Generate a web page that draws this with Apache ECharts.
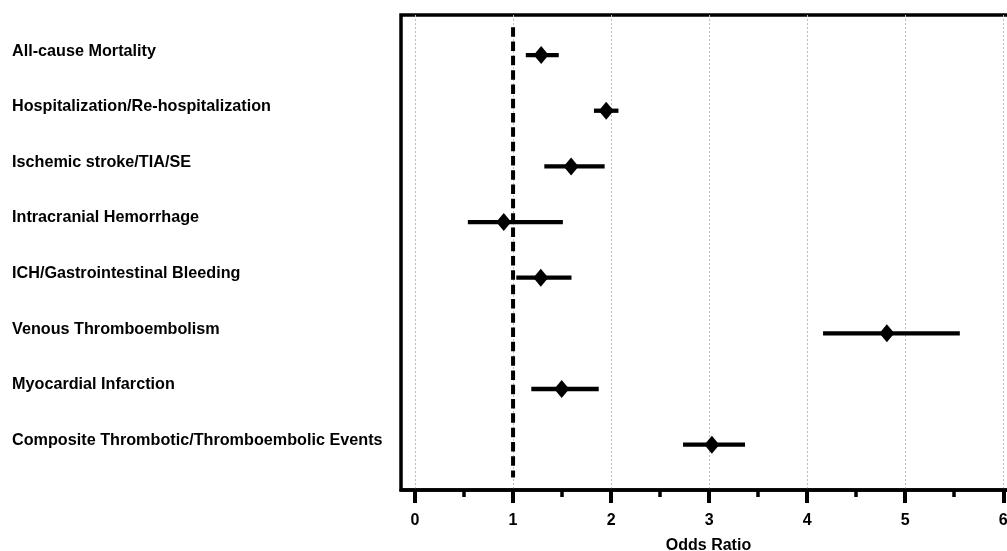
<!DOCTYPE html>
<html>
<head>
<meta charset="utf-8">
<script src="https://cdn.jsdelivr.net/npm/echarts@6/dist/echarts.min.js"></script>
<style>html,body{margin:0;padding:0;background:#fff;}#c{width:1007px;height:551px;}</style>
</head>
<body>
<div id="c"></div>
<script>
const categories = [
  'All-cause Mortality',
  'Hospitalization/Re-hospitalization',
  'Ischemic stroke/TIA/SE',
  'Intracranial Hemorrhage',
  'ICH/Gastrointestinal Bleeding',
  'Venous Thromboembolism',
  'Myocardial Infarction',
  'Composite Thrombotic/Thromboembolic Events'
];
const oddsRatio = [1.287, 1.95, 1.592, 0.905, 1.283, 4.813, 1.496, 3.028];
const ciLow     = [1.13, 1.825, 1.319, 0.539, 1.033, 4.162, 1.186, 2.734];
const ciHigh    = [1.466, 2.075, 1.934, 1.508, 1.596, 5.557, 1.874, 3.366];
const majorTicks = [0, 1, 2, 3, 4, 5, 6];
const minorTicks = [0.5, 1.5, 2.5, 3.5, 4.5, 5.5];
const rowPos = [1, 2, 3, 4, 5, 6, 7, 8];
const refValue = 1;

const font = 'Liberation Sans, Arial, sans-serif';
const chart = echarts.init(document.getElementById('c'), null, {renderer: 'canvas'});

const errData = rowPos.map((y, i) => [ciLow[i], ciHigh[i], y]);
const ptData = rowPos.map((y, i) => [oddsRatio[i], y]);

chart.setOption({
  animation: false,
  backgroundColor: '#fff',
  grid: {
    left: 401, top: 15, bottom: 61, width: 615,
    outerBoundsMode: 'none', containLabel: false,
    show: true, borderColor: '#000', borderWidth: 3.5, backgroundColor: 'transparent'
  },
  xAxis: [{
    type: 'value', position: 'bottom',
    min: -0.143, max: 6.13,
    name: 'Odds Ratio', nameLocation: 'middle', nameGap: 48,
    nameTextStyle: {fontFamily: font, fontWeight: 'bold', fontSize: 16, color: '#000'},
    axisLine: {show: true, lineStyle: {color: '#000', width: 3.5}},
    axisTick: {show: true, customValues: majorTicks, length: 13, lineStyle: {color: '#000', width: 4}},
    axisLabel: {customValues: majorTicks, margin: 23, fontFamily: font, fontWeight: 'bold', fontSize: 16, color: '#000'},
    splitLine: {show: true, lineStyle: {color: '#bdbdbd', width: 1, type: [2, 2]}}
  }, {
    type: 'value', position: 'bottom',
    min: -0.143, max: 6.13,
    axisLine: {show: false},
    axisTick: {show: true, customValues: minorTicks, length: 7, lineStyle: {color: '#000', width: 3.5}},
    axisLabel: {show: false},
    splitLine: {show: false}
  }],
  yAxis: {
    type: 'value', inverse: true, min: 0.28, max: 8.815,
    axisLine: {show: false},
    axisTick: {show: false},
    splitLine: {show: false},
    axisLabel: {
      customValues: rowPos,
      formatter: v => categories[Math.round(v) - 1] || '',
      align: 'left', margin: 389, verticalAlign: 'bottom', lineHeight: 8,
      fontFamily: font, fontWeight: 'bold', fontSize: 16.2, color: '#000'
    }
  },
  series: [{
    type: 'line',
    data: [[refValue, 0.5], [refValue, 8.59]],
    symbol: 'none',
    lineStyle: {color: '#000', width: 4, type: [9.5, 4.8]},
    z: 3
  }, {
    type: 'custom',
    data: errData,
    renderItem: (params, api) => {
      const p1 = api.coord([api.value(0), api.value(2)]);
      const p2 = api.coord([api.value(1), api.value(2)]);
      return {
        type: 'line',
        shape: {x1: p1[0], y1: p1[1], x2: p2[0], y2: p2[1]},
        style: {stroke: '#000', lineWidth: 4.3}
      };
    },
    z: 4
  }, {
    type: 'scatter',
    data: ptData,
    symbol: 'diamond',
    symbolSize: [15, 18],
    itemStyle: {color: '#000', opacity: 1},
    z: 5
  }]
});
</script>
</body>
</html>
